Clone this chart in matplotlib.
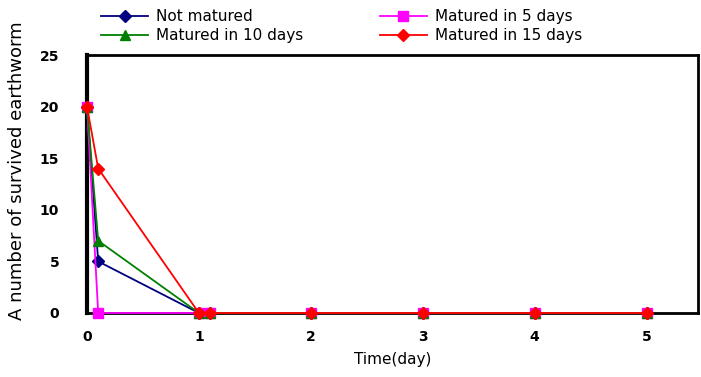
""" Survival of earthworms in matured and not matured substrate. """
import matplotlib
matplotlib.use('Agg')
import matplotlib.pyplot as plt

time_days = [0, 0.1, 1, 1.1, 2, 3, 4, 5]
not_matured = [20, 5, 0, 0, 0, 0, 0, 0]
matured_5 = [20, 0, 0, 0, 0, 0, 0, 0]
matured_10 = [20, 7, 0, 0, 0, 0, 0, 0]
matured_15 = [20, 14, 0, 0, 0, 0, 0, 0]

series = [
    ('Not matured', not_matured, '#000080', 'D', 6),
    ('Matured in 5 days', matured_5, '#ff00ff', 's', 7),
    ('Matured in 10 days', matured_10, '#008000', '^', 7),
    ('Matured in 15 days', matured_15, '#ff0000', 'D', 6),
]

plt.rcParams['font.family'] = 'DejaVu Sans'

fig = plt.figure(figsize=(7.01, 3.77), dpi=100)
ax = fig.add_axes([87 / 701, 1 - 313 / 377, (698 - 87) / 701, (313 - 55) / 377])

lines = []
for label, values, color, marker, size in series:
    ln, = ax.plot(time_days, values, color=color, marker=marker, markersize=size,
                  linewidth=1.3, label=label, clip_on=False, zorder=3)
    lines.append(ln)

ax.set_xlim(0, 5.46)
ax.set_ylim(0, 25)
ax.set_xticks([0, 1, 2, 3, 4, 5])
ax.set_yticks([0, 5, 10, 15, 20, 25])
ax.tick_params(axis='x', length=0, labelsize=10, pad=12)
ax.tick_params(axis='y', length=0, labelsize=10, pad=20)
for lbl in ax.get_xticklabels() + ax.get_yticklabels():
    lbl.set_fontweight('bold')

ax.spines['left'].set_linewidth(3)
ax.spines['top'].set_linewidth(2)
ax.spines['right'].set_linewidth(2)
ax.spines['bottom'].set_linewidth(2)
for s in ax.spines.values():
    s.set_color('black')

ax.set_xlabel('Time(day)', fontsize=11, labelpad=6)
ax.set_ylabel('A number of survived earthworm', fontsize=13)
ax.yaxis.set_label_coords(-0.1, 0.55)

# row-major order: first row Not matured / 5 days, second row 10 / 15 days
order = [0, 2, 1, 3]
fig.legend([lines[i] for i in order], [series[i][0] for i in order],
           loc='upper left', bbox_to_anchor=(95 / 701, 0.992), ncol=2,
           frameon=False, fontsize=11, handlelength=3.1, handletextpad=0.5,
           columnspacing=5.0, labelspacing=0.25, borderaxespad=0)

fig.savefig('out.png', dpi=100)
